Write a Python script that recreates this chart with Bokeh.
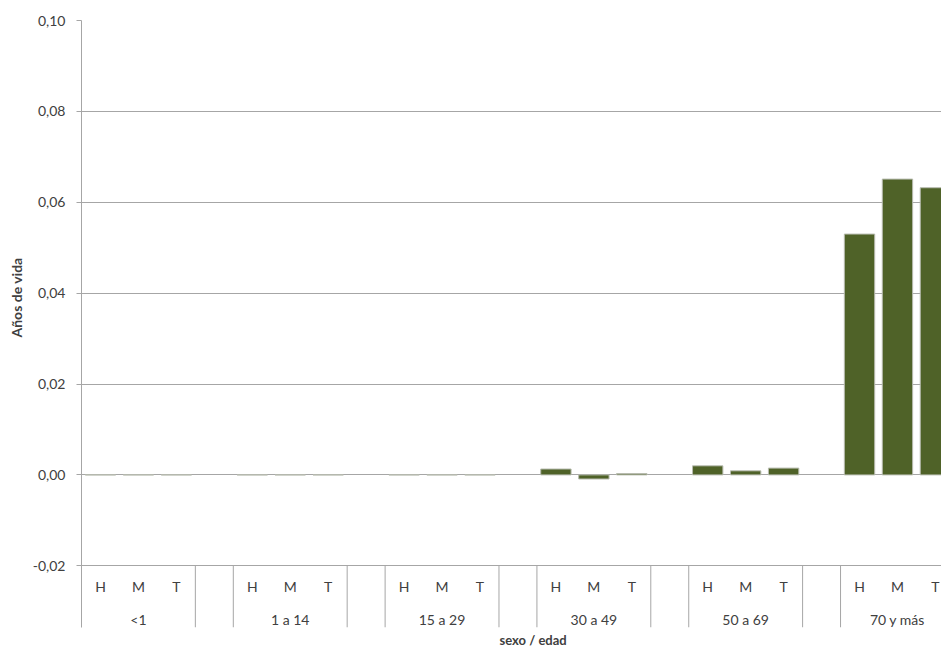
from bokeh.plotting import figure
from bokeh.models import (ColumnDataSource, FixedTicker, CustomJSTickFormatter,
                          Range1d, Title)
from bokeh.core.properties import value
from bokeh.embed import file_html
from bokeh.resources import INLINE

# ---- data ----
groups = ["<1", "1 a 14", "15 a 29", "30 a 49", "50 a 69", "70 y más"]
sexes = ["H", "M", "T"]
vals_H = [0.0, 0.0, 0.0, 0.0013, 0.0020, 0.0530]
vals_M = [0.0, 0.0, 0.0, -0.0009, 0.0009, 0.0651]
vals_T = [0.0, 0.0, 0.0, 0.0003, 0.0015, 0.0632]
y_ticks = [-0.02, 0.0, 0.02, 0.04, 0.06, 0.08, 0.10]

FONT = "Lato"
GRID = "#a6a6a6"
BAR = "#4f6228"
TXT = "#404040"

# ---- category slots (each group: H, M, T, blank) ----
slots_per_group = 4
xs, tops, labels = [], [], []
series = [vals_H, vals_M, vals_T]
for g in range(len(groups)):
    for k in range(3):
        xs.append(g * slots_per_group + k + 0.5)
        tops.append(series[k][g])
        labels.append(sexes[k])

y_top = 0.10
y_axis_pos = -0.02
y_bottom = -0.03358
x_end = 22.66

p = figure(width=941, height=650, output_backend="svg", toolbar_location=None,
           x_range=Range1d(0, x_end), y_range=Range1d(y_bottom, y_top),
           min_border_left=80, min_border_right=0, min_border_top=20,
           min_border_bottom=20)
p.outline_line_color = None
p.background_fill_color = "white"
p.border_fill_color = "white"
p.xaxis.visible = False
p.xgrid.visible = False

p.yaxis.ticker = FixedTicker(ticks=y_ticks)
p.yaxis.formatter = CustomJSTickFormatter(code="return tick.toFixed(2).replace('.', ',');")
p.yaxis.axis_line_color = GRID
p.yaxis.major_tick_line_color = GRID
p.yaxis.major_tick_out = 5
p.yaxis.major_tick_in = 0
p.yaxis.minor_tick_line_color = None
p.yaxis.major_label_text_font = FONT
p.yaxis.major_label_text_font_size = "14px"
p.yaxis.major_label_text_color = TXT
p.yaxis.major_label_standoff = 11
p.ygrid.ticker = FixedTicker(ticks=y_ticks)
p.ygrid.grid_line_color = GRID
p.ygrid.grid_line_width = 1

src = ColumnDataSource(dict(x=xs, top=tops, lab=labels))
p.vbar(x="x", top="top", bottom=0, width=0.8, source=src,
       fill_color=BAR, line_color="#b8bcb0", line_width=1)

# category table below the plot
sep_x = []
for g in range(len(groups) - 1):
    sep_x += [g * slots_per_group + 3, g * slots_per_group + 4]
p.segment(x0=sep_x, x1=sep_x, y0=[y_axis_pos] * len(sep_x),
          y1=[y_bottom] * len(sep_x), line_color=GRID, line_width=1)

row1_y = -0.0246
row2_y = -0.0318
p.text(x="x", y=row1_y, text="lab", source=src, text_font=value(FONT),
       text_font_size="14px", text_color=TXT, text_align="center",
       text_baseline="middle")
gx = [g * slots_per_group + 1.5 for g in range(len(groups))]
p.text(x=gx, y=[row2_y] * len(gx), text=groups, text_font=value(FONT),
       text_font_size="14px", text_color=TXT, text_align="center",
       text_baseline="middle")

# axis titles
p.add_layout(Title(text="sexo / edad", align="left", offset=418, standoff=5,
                   text_font=FONT, text_font_size="13px",
                   text_font_style="bold", text_color=TXT), "below")
p.add_layout(Title(text="Años de vida", align="left", offset=290, standoff=10,
                   text_font=FONT, text_font_size="14px",
                   text_font_style="bold", text_color=TXT), "left")

open("out.html", "w").write(file_html(p, INLINE))
